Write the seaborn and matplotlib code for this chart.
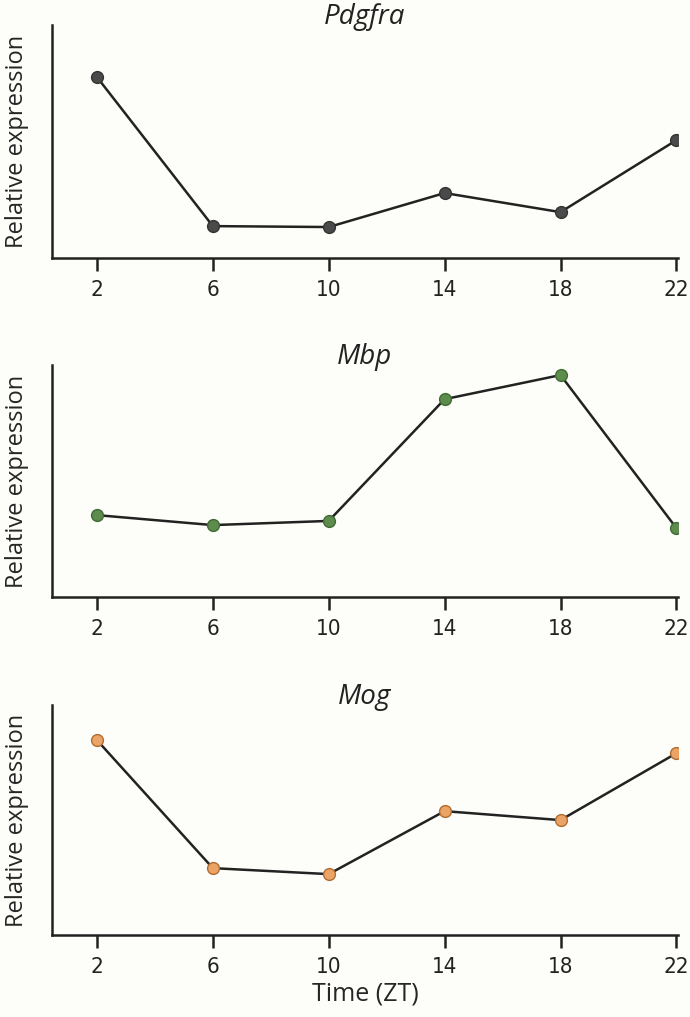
import pandas as pd
import matplotlib.pyplot as plt
import seaborn as sns
from matplotlib import font_manager

# ------------------------------------------------------------
# Data (relative expression)
# ------------------------------------------------------------
zt = [2, 6, 10, 14, 18, 22]
pdgfra = [0.777, 0.137, 0.133, 0.279, 0.197, 0.506]
mbp = [0.353, 0.310, 0.328, 0.853, 0.957, 0.297]
mog = [0.848, 0.291, 0.265, 0.539, 0.500, 0.791]

genes = ['Pdgfra', 'Mbp', 'Mog']
series = [pdgfra, mbp, mog]
colors = ['#4a4a4a', '#5e8c4c', '#eba466']
edges = ['#333333', '#3f6a35', '#b06c30']

sns.set_style('ticks')
plt.rcParams['font.family'] = ['Open Sans', 'DejaVu Sans']


def find_narrow():
    """Pick a condensed face for the tick numbers, regular weight first."""
    files = sorted(font_manager.findSystemFonts())
    cands = [f for f in files
             if ('narrow' in f.lower() or 'condensed' in f.lower())
             and 'italic' not in f.lower() and 'oblique' not in f.lower()]
    for f in cands:
        low = f.lower()
        if not any(w in low for w in ['bold', 'light', 'thin', 'black', 'semi', 'extra', 'medium']):
            return font_manager.FontProperties(fname=f, size=16)
    for f in cands:
        if 'semibold' in f.lower() or 'medium' in f.lower():
            return font_manager.FontProperties(fname=f, size=15)
    if cands:
        return font_manager.FontProperties(fname=cands[0], size=14)
    return font_manager.FontProperties(family='DejaVu Sans', size=13)


narrow = find_narrow()

bg = '#fdfdf9'
fig = plt.figure(figsize=(6.9, 10.17), dpi=100, facecolor=bg)

# axes rectangles in figure fractions
boxes = [
    [0.0754, 0.7463, 0.907, 0.229],
    [0.0754, 0.4130, 0.907, 0.228],
    [0.0754, 0.0806, 0.907, 0.226],
]

for gene, vals, col, ec, box in zip(genes, series, colors, edges, boxes):
    ax = fig.add_axes(box, facecolor=bg)
    df = pd.DataFrame({'ZT': zt, 'expr': vals})
    sns.lineplot(data=df, x='ZT', y='expr', ax=ax, color='#222222',
                 linewidth=1.8, marker='o', markersize=8.5,
                 markerfacecolor=col, markeredgecolor=ec, markeredgewidth=1)
    ax.set_xlim(0.45, 22.05)
    ax.set_ylim(0, 1)
    ax.set_xticks(zt)
    ax.set_xticklabels([str(z) for z in zt], fontproperties=narrow, color='#2a2a2a')
    ax.set_yticks([])
    ax.tick_params(axis='x', direction='out', length=9, width=1.8,
                   colors='#222222', pad=7)
    for side in ['left', 'bottom']:
        ax.spines[side].set_linewidth(1.8)
        ax.spines[side].set_color('#222222')
    sns.despine(ax=ax)
    ax.set_xlabel('')
    ax.set_ylabel('Relative expression', fontsize=17)
    ax.yaxis.set_label_coords(-0.036, 0.5)
    ax.text(0.5, 1.005, gene, transform=ax.transAxes, ha='center',
            va='baseline', fontsize=20, style='italic', color='#222222')

fig.text(0.53, 0.010, 'Time (ZT)', ha='center', va='bottom', fontsize=18)

plt.savefig('out.png', dpi=100, facecolor=bg)
plt.close()
